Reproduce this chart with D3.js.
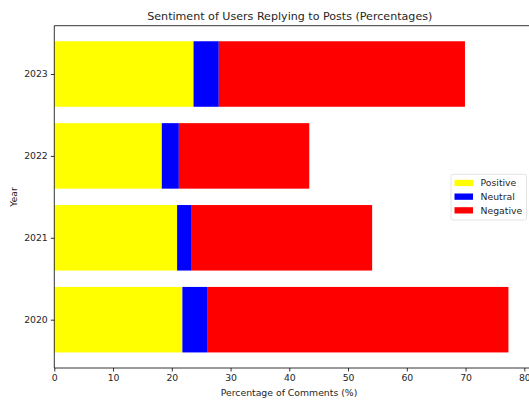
<!DOCTYPE html>
<html><head><meta charset="utf-8">
<script src="https://cdn.jsdelivr.net/npm/d3@7"></script>
<style>body{margin:0;background:#fff}svg{display:block;font-family:"DejaVu Sans",sans-serif}</style>
</head><body>
<script>
const years = ["2020", "2021", "2022", "2023"];
const positive = [21.8, 20.9, 18.3, 23.7];
const neutral = [4.2, 2.5, 2.9, 4.3];
const negative = [51.3, 30.7, 22.2, 41.9];
const seriesNames = ["Positive", "Neutral", "Negative"];
const seriesColors = ["#ffff00", "#0000ff", "#ff0000"];
const xTicks = [0, 10, 20, 30, 40, 50, 60, 70, 80];

(function draw() {
const W = 529, H = 400;
const FS = 9.3;
const svg = d3.select("body").append("svg").attr("width", W).attr("height", H);

const mLeft = 54.3, mTop = 25.7, mBottom = 368;
const pxPerUnit = (524.3 - 54.3) / 80;
const totals = years.map((y, i) => positive[i] + neutral[i] + negative[i]);
const xMax = d3.max(totals) * 1.05;
const mRight = mLeft + xMax * pxPerUnit;

const x = d3.scaleLinear().domain([0, xMax]).range([mLeft, mRight]);
const y = d3.scaleLinear().domain([-0.59, years.length - 1 + 0.59]).range([mBottom, mTop]);
const bandH = Math.abs(y(0.4) - y(-0.4));

const rows = years.map((yr, i) => ({year: yr, i, Positive: positive[i], Neutral: neutral[i], Negative: negative[i]}));
const stack = d3.stack().keys(seriesNames)(rows);

svg.append("g").selectAll("g").data(stack).join("g")
  .attr("fill", (d, k) => seriesColors[k])
  .selectAll("rect").data(d => d).join("rect")
  .attr("x", d => x(d[0]))
  .attr("width", d => x(d[1]) - x(d[0]))
  .attr("y", d => y(d.data.i + 0.4))
  .attr("height", bandH);

svg.append("line").attr("x1", mLeft).attr("x2", mRight).attr("y1", mTop).attr("y2", mTop).attr("stroke", "#000").attr("stroke-width", 0.8);
svg.append("line").attr("x1", mRight).attr("x2", mRight).attr("y1", mTop).attr("y2", mBottom).attr("stroke", "#000").attr("stroke-width", 0.8);

const xAxis = svg.append("g").attr("transform", `translate(0,${mBottom})`)
  .call(d3.axisBottom(x).tickValues(xTicks).tickSize(3.5).tickPadding(3).tickFormat(d3.format("d")));
xAxis.select(".domain").attr("stroke", "#000").attr("stroke-width", 0.8).attr("d", `M${mLeft},0H${mRight}`);
xAxis.selectAll(".tick line").attr("stroke", "#000").attr("stroke-width", 0.8);
xAxis.selectAll("text").attr("font-size", FS).attr("fill", "#262626").attr("font-family", "DejaVu Sans");

const yAxis = svg.append("g").attr("transform", `translate(${mLeft},0)`)
  .call(d3.axisLeft(y).tickValues(years.map((d, i) => i)).tickFormat(i => years[i]).tickSize(3.5).tickPadding(3));
yAxis.select(".domain").attr("stroke", "#000").attr("stroke-width", 0.8).attr("d", `M0,${mTop}V${mBottom}`);
yAxis.selectAll(".tick line").attr("stroke", "#000").attr("stroke-width", 0.8);
yAxis.selectAll("text").attr("font-size", FS).attr("fill", "#262626").attr("font-family", "DejaVu Sans");

svg.append("text").attr("x", 289.8).attr("y", 20).attr("text-anchor", "middle")
  .attr("font-size", 11.1).attr("fill", "#262626").text("Sentiment of Users Replying to Posts (Percentages)");
svg.append("text").attr("x", 289).attr("y", 395.5).attr("text-anchor", "middle")
  .attr("font-size", FS).attr("fill", "#262626").text("Percentage of Comments (%)");
svg.append("text").attr("transform", `translate(17,197) rotate(-90)`).attr("text-anchor", "middle")
  .attr("font-size", FS).attr("fill", "#262626").text("Year");

const lg = svg.append("g");
lg.append("rect").attr("x", 451).attr("y", 174.3).attr("width", 75.5).attr("height", 45.7).attr("rx", 2)
  .attr("fill", "#fff").attr("fill-opacity", 0.8).attr("stroke", "#ddd").attr("stroke-width", 0.8);
seriesNames.forEach((s, k) => {
  const cy = 182.8 + k * 13.7;
  lg.append("rect").attr("x", 454.5).attr("y", cy - 3).attr("width", 18.5).attr("height", 6.3).attr("fill", seriesColors[k]);
  lg.append("text").attr("x", 480.5).attr("y", cy + 3.3).attr("font-size", FS).attr("fill", "#262626").text(s);
});
})();
</script>
</body></html>
